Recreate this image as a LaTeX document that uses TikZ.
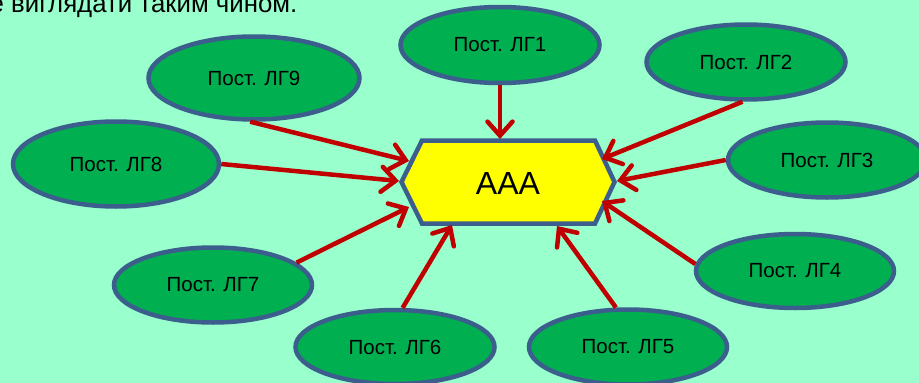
\documentclass[tikz,border=0pt]{standalone}
\usepackage{fontspec}
\setmainfont{Liberation Sans}
\usetikzlibrary{shapes.geometric,arrows.meta}
\definecolor{bgmint}{HTML}{99FFCC}
\definecolor{postgreen}{HTML}{00B050}
\definecolor{edgeblue}{HTML}{3B5E8C}
\definecolor{arrowred}{HTML}{C00000}
\definecolor{hexyellow}{HTML}{FFFF00}
\tikzset{
  post/.style={ellipse, draw=edgeblue, fill=postgreen, line width=4.5pt, inner sep=0pt,
    font=\fontsize{20.5}{24}\selectfont, text=black},
  feed/.style={draw=arrowred, line width=4.5pt,
    -{Straight Barb[length=14pt,width=25pt,line cap=round]}},
  hexbox/.style={draw=edgeblue, fill=hexyellow, line width=4.5pt, line join=miter}
}
\begin{document}
\begin{tikzpicture}[x=1pt,y=-1pt]
\fill[bgmint] (0,0) rectangle (919,383);
\useasboundingbox (0,0) rectangle (919,383);
% heading fragment
\node[anchor=base east, inner sep=0pt, font=\fontsize{25.8}{30}\selectfont] (head) at (297.5,12) {е виглядати таким чином.};
% central hexagon
\draw[hexbox] (401.5,182) -- (422,140.5) -- (595,140.5) -- (614.5,182) -- (595,223.5) -- (422,223.5) -- cycle;
\node[font=\fontsize{32}{36}\selectfont, inner sep=0pt] (c) at (508,183) {AAA};
% arrow tips on the hexagon
\coordinate (t1) at (500,139);
\coordinate (t2) at (602,159);
\coordinate (t3) at (617,181);
\coordinate (t4) at (602,201);
\coordinate (t5) at (557,226);
\coordinate (t6) at (452,225);
\coordinate (t7) at (409,207);
\coordinate (t8) at (399,181);
\coordinate (t9) at (409,161);
% ellipses
\node[post, minimum width=199pt, minimum height=76pt] (e1) at (500,45) {Пост. ЛГ1};
\node[post, minimum width=199pt, minimum height=75pt] (e2) at (746,62) {Пост. ЛГ2};
\node[post, minimum width=198pt, minimum height=75pt] (e3) at (827,160) {Пост. ЛГ3};
\node[post, minimum width=198pt, minimum height=74pt] (e4) at (795,271) {Пост. ЛГ4};
\node[post, minimum width=198pt, minimum height=75pt] (e5) at (628,347) {Пост. ЛГ5};
\node[post, minimum width=199pt, minimum height=74pt] (e6) at (395,347) {Пост. ЛГ6};
\node[post, minimum width=198pt, minimum height=75pt] (e7) at (213,285) {Пост. ЛГ7};
\node[post, minimum width=206pt, minimum height=85pt] (e8) at (116,164) {Пост. ЛГ8};
\node[post, minimum width=211pt, minimum height=83pt] (e9) at (254,78) {Пост. ЛГ9};
% connectors
\draw[feed] (e1.south) -- (t1);
\draw[feed] (e2.265) -- (t2);
\draw[feed] (e3.west) -- (t3);
\draw[feed] (e4.176) -- (t4);
\draw[feed] (e5.107) -- (t5);
\draw[feed] (e6.79) -- (t6);
\draw[feed] (e7.15) -- (t7);
\draw[feed] (e8.east) -- (t8);
\draw[feed] (e9.265) -- (t9);
\end{tikzpicture}
\end{document}
